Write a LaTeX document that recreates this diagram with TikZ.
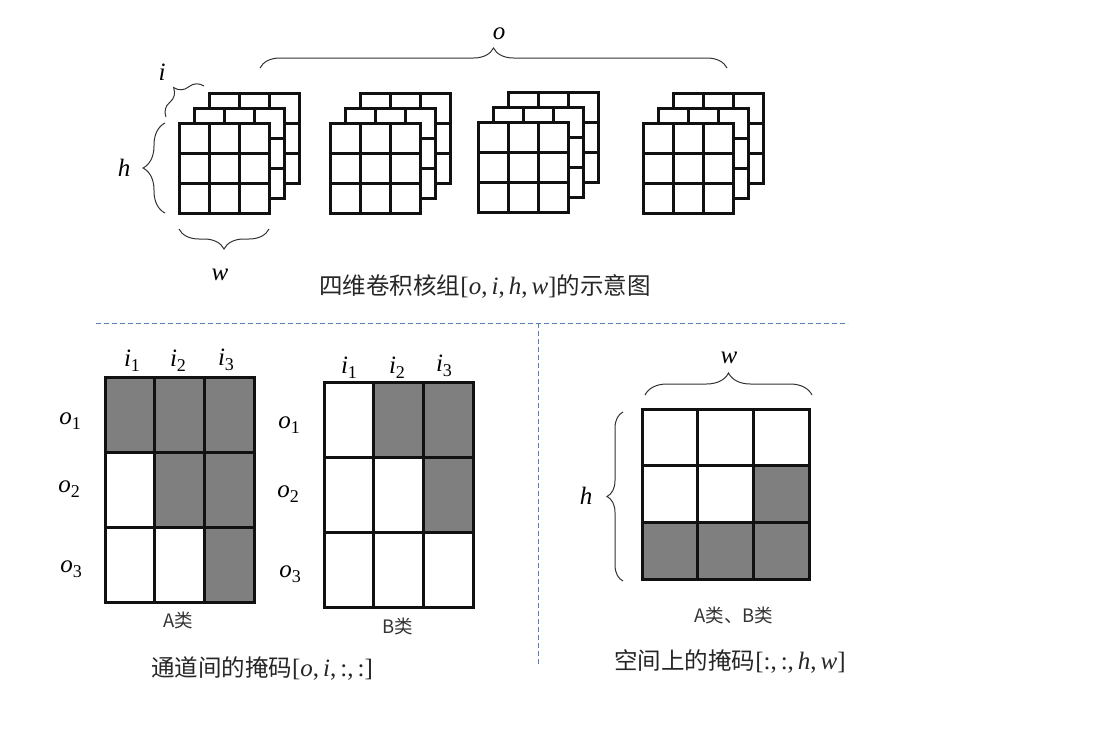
\documentclass[tikz,border=0pt]{standalone}
\usepackage{fontspec}
\setmainfont{Liberation Sans}
\newfontfamily\cjk{Noto Sans CJK SC}
\newfontfamily\mface{Liberation Serif}
\usepackage{xcolor}
\usetikzlibrary{decorations.pathreplacing}
\definecolor{ink}{HTML}{111111}
\definecolor{mask}{HTML}{7F7F7F}
\definecolor{bracket}{HTML}{333333}
\definecolor{divider}{HTML}{5B80B8}
\newcommand{\mv}[1]{{\mface\itshape #1}}
\newcommand{\mb}[1]{{\mface\fontsize{25}{26}\selectfont #1}}
\newcommand{\mc}{{\mface\fontsize{25}{26}\selectfont,}\hspace{4pt}}
\newcommand{\mi}[2]{\mv{#1}\raisebox{-5pt}{\fontsize{18}{18}\selectfont\mface #2}}
\tikzset{
  cell/.style={rectangle,draw=ink,line width=3pt,inner sep=0pt,outer sep=0pt,anchor=north west},
  kcell/.style={cell,fill=white,minimum width=30pt,minimum height=30pt},
  acell/.style={cell,minimum width=49.7pt,minimum height=75pt},
  ccell/.style={cell,minimum width=55.8pt,minimum height=56.7pt},
  curly/.style={draw=bracket,line width=1pt,decorate,decoration={brace,amplitude=#1}},
  cut/.style={draw=divider,line width=0.9pt,dash pattern=on 5pt off 3pt},
  sym/.style={inner sep=0pt,font=\fontsize{25}{26}\selectfont},
  caption/.style={inner sep=0pt,text=black!85,font=\fontsize{23.5}{26}\selectfont\cjk},
  small/.style={inner sep=0pt,text=black!80,font=\fontsize{18.5}{20}\selectfont\cjk}
}
\begin{document}
\begin{tikzpicture}[x=1pt,y=-1pt]
\useasboundingbox (0,0) rectangle (1100,748);
% convolution kernels
\foreach \kx/\ky/\kn in {179/123/a,330/123/b,478/122.5/c,643/123/d}
  \foreach \kd in {30,15,0}
    \foreach \r in {0,1,2}
      \foreach \c in {0,1,2}
        \node[kcell] (k\kn-\kd-\r-\c) at ({\kx+\kd+30*\c},{\ky-\kd+30*\r}) {};
\draw[curly=20pt] (260,68) -- (727,68);
\draw[curly=18pt] (166,117) -- (204,86);
\draw[curly=22pt] (165,213) -- (165,123);
\draw[curly=20pt] (269,229) -- (179,229);
\node[sym] (lo) at (499,34) {\mv{o}};
\node[sym] (li) at (162,72) {\mv{i}};
\node[sym] (lh) at (124,168) {\mv{h}};
\node[sym] (lw) at (220,275) {\mv{w}};
\node[caption] (title) at (485,286) {四维卷积核组\mb{[}\mb{\mv{o}}\mc\mb{\mv{i}}\mc\mb{\mv{h}}\mc\mb{\mv{w}}\mb{]}的示意图};
% dividers
\draw[cut] (96,323) -- (848,323);
\draw[cut] (538.5,323) -- (538.5,664);
% class A
\foreach \c/\r/\col in {0/0/mask,1/0/mask,2/0/mask,0/1/white,1/1/mask,2/1/mask,0/2/white,1/2/white,2/2/mask}
  \node[acell,fill=\col] (a-\r-\c) at ({105+49.7*\c},{377+75*\r}) {};
\foreach \n/\x/\y in {1/132/361,2/178/361,3/226/360}
  \node[sym] (ai\n) at (\x,\y) {\mi{i}{\n}};
\foreach \n/\x/\y in {1/70/421,2/69/489,3/71/569}
  \node[sym] (ao\n) at (\x,\y) {\mi{o}{\n}};
\node[small] (la) at (178,620) {A类};
% class B
\foreach \c/\r/\col in {0/0/white,1/0/mask,2/0/mask,0/1/white,1/1/white,2/1/mask,0/2/white,1/2/white,2/2/white}
  \node[acell,fill=\col] (b-\r-\c) at ({324+49.7*\c},{382+75*\r}) {};
\foreach \n/\x/\y in {1/349/368,2/397/368,3/444/366}
  \node[sym] (bi\n) at (\x,\y) {\mi{i}{\n}};
\foreach \n/\x/\y in {1/289/425,2/288/494,3/290/574}
  \node[sym] (bo\n) at (\x,\y) {\mi{o}{\n}};
\node[small] (lb) at (398,626) {B类};
\node[caption] (chan) at (262,668) {通道间的掩码\mb{[}\mb{\mv{o}}\mc\mb{\mv{i}}\mc\mb{:}\mc\mb{:}\mb{]}};
% spatial mask
\foreach \c/\r/\col in {0/0/white,1/0/white,2/0/white,0/1/white,1/1/white,2/1/mask,0/2/mask,1/2/mask,2/2/mask}
  \node[ccell,fill=\col] (c-\r-\c) at ({642+55.8*\c},{409+56.7*\r}) {};
\draw[curly=22pt] (645,395) -- (812,395);
\draw[curly=16pt] (623,581) -- (623,412);
\node[sym] (cw) at (729,358) {\mv{w}};
\node[sym] (ch) at (586,496) {\mv{h}};
\node[small] (lab) at (734,615) {A类、B类};
\node[caption] (spat) at (730,661) {空间上的掩码\mb{[}\mb{:}\mc\mb{:}\mc\mb{\mv{h}}\mc\mb{\mv{w}}\mb{]}};
\end{tikzpicture}
\end{document}
